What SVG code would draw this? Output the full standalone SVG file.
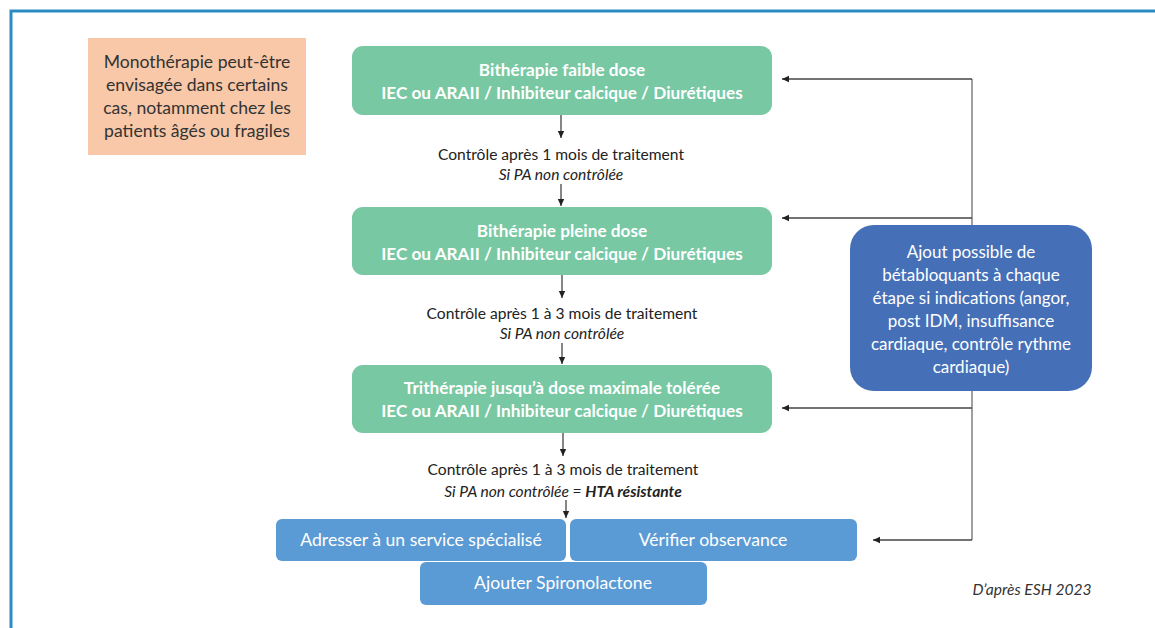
<svg xmlns="http://www.w3.org/2000/svg" width="1155" height="628" viewBox="0 0 1155 628">
<defs>
<marker id="ah" markerWidth="8" markerHeight="8" refX="7" refY="4" orient="auto" markerUnits="userSpaceOnUse">
<path d="M0,0.8 L7,4 L0,7.2 Z" fill="#222"/>
</marker>
<style>
.t{font-family:Lato,"Liberation Sans",sans-serif;}
.g{fill:#78C8A3;}
.gt{fill:#fff;font-weight:bold;font-size:17.2px;text-anchor:middle;}
.lab{fill:#222;font-size:15.6px;text-anchor:middle;}
.it{font-style:italic;}
.bb{fill:#5B9BD5;}
.bt{fill:#fff;font-size:17.6px;text-anchor:middle;}
.con{stroke:#444;stroke-width:1.3;fill:none;}
.side{stroke:#888;stroke-width:1.6;fill:none;}
</style>
</defs>
<rect width="1155" height="628" fill="#fff"/>
<path d="M11,628 V11 H1155" fill="none" stroke="#2A8BC4" stroke-width="3"/>

<g id="connectors">
<line class="con" x1="561" y1="115" x2="561" y2="138" marker-end="url(#ah)"/>
<line class="con" x1="561" y1="184" x2="561" y2="206" marker-end="url(#ah)"/>
<line class="con" x1="562" y1="275" x2="562" y2="298" marker-end="url(#ah)"/>
<line class="con" x1="562" y1="343" x2="562" y2="364" marker-end="url(#ah)"/>
<line class="con" x1="563" y1="433" x2="563" y2="456" marker-end="url(#ah)"/>
<line class="con" x1="566" y1="500" x2="566" y2="518" marker-end="url(#ah)"/>
<path class="side" d="M972,79 V540"/>
<line class="con" x1="972" y1="79" x2="782" y2="79" marker-end="url(#ah)"/>
<line class="con" x1="972" y1="218" x2="782" y2="218" marker-end="url(#ah)"/>
<line class="con" x1="972" y1="408" x2="782" y2="408" marker-end="url(#ah)"/>
<line class="con" x1="972" y1="540" x2="873" y2="540" marker-end="url(#ah)"/>
</g>

<g id="mono">
<rect x="88" y="38" width="218" height="117" fill="#F8C8A8"/>
<text class="t" fill="#333" font-size="17.6" text-anchor="middle"><tspan x="197" y="68">Monothérapie peut-être</tspan><tspan x="197" y="91">envisagée dans certains</tspan><tspan x="197" y="114">cas, notamment chez les</tspan><tspan x="197" y="137">patients âgés ou fragiles</tspan></text>
</g>

<g id="step1">
<rect class="g" x="352" y="46" width="420" height="69" rx="11"/>
<text class="t gt"><tspan x="562" y="76">Bithérapie faible dose</tspan><tspan x="562" y="99">IEC ou ARAII / Inhibiteur calcique / Diurétiques</tspan></text>
</g>
<g id="label1">
<text class="t lab"><tspan x="561" y="160">Contrôle après 1 mois de traitement</tspan><tspan class="it" x="561" y="180">Si PA non contrôlée</tspan></text>
</g>

<g id="step2">
<rect class="g" x="352" y="207" width="420" height="68" rx="11"/>
<text class="t gt"><tspan x="562" y="237">Bithérapie pleine dose</tspan><tspan x="562" y="260">IEC ou ARAII / Inhibiteur calcique / Diurétiques</tspan></text>
</g>
<g id="label2">
<text class="t lab"><tspan x="562" y="319">Contrôle après 1 à 3 mois de traitement</tspan><tspan class="it" x="562" y="339">Si PA non contrôlée</tspan></text>
</g>

<g id="step3">
<rect class="g" x="352" y="365" width="420" height="68" rx="11"/>
<text class="t gt"><tspan x="562" y="394">Trithérapie jusqu’à dose maximale tolérée</tspan><tspan x="562" y="417">IEC ou ARAII / Inhibiteur calcique / Diurétiques</tspan></text>
</g>
<g id="label3">
<text class="t lab"><tspan x="563" y="475">Contrôle après 1 à 3 mois de traitement</tspan><tspan class="it" x="563" y="497">Si PA non contrôlée = <tspan font-weight="bold">HTA résistante</tspan></tspan></text>
</g>

<g id="beta">
<rect x="850" y="225" width="242" height="166" rx="24" fill="#4570B8"/>
<text class="t" fill="#fff" font-size="17" text-anchor="middle"><tspan x="971" y="258">Ajout possible de</tspan><tspan x="971" y="281">bétabloquants à chaque</tspan><tspan x="971" y="304">étape si indications (angor,</tspan><tspan x="971" y="327">post IDM, insuffisance</tspan><tspan x="971" y="350">cardiaque, contrôle rythme</tspan><tspan x="971" y="373">cardiaque)</tspan></text>
</g>

<g id="adresser">
<rect class="bb" x="276" y="519" width="290" height="42" rx="6"/>
<text class="t bt" x="421" y="546">Adresser à un service spécialisé</text>
</g>
<g id="verifier">
<rect class="bb" x="570" y="519" width="287" height="42" rx="6"/>
<text class="t bt" x="713" y="546">Vérifier observance</text>
</g>
<g id="spiro">
<rect class="bb" x="420" y="562" width="287" height="43" rx="6"/>
<text class="t bt" x="563" y="589">Ajouter Spironolactone</text>
</g>

<text class="t it" fill="#333" font-size="15.6" x="1032" y="595" text-anchor="middle">D’après ESH 2023</text>
</svg>
